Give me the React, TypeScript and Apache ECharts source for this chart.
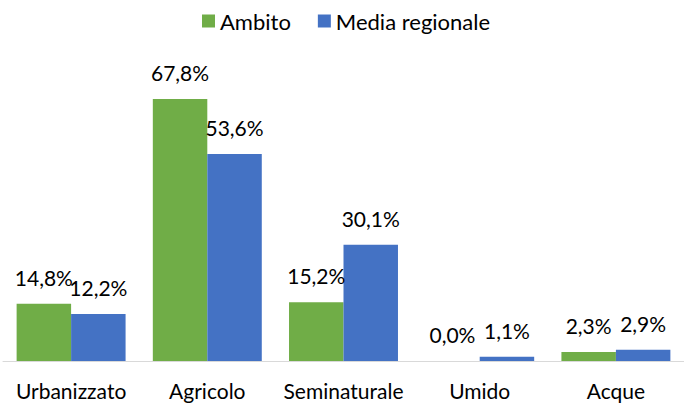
import React, { useEffect, useRef } from "react";
import * as echarts from "echarts";

const categories = ["Urbanizzato", "Agricolo", "Seminaturale", "Umido", "Acque"];
const ambito = [14.8, 67.8, 15.2, 0.0, 2.3];
const mediaRegionale = [12.2, 53.6, 30.1, 1.1, 2.9];
const seriesNames = ["Ambito", "Media regionale"];

const FONT = "Lato, 'Liberation Sans', sans-serif";
const fmt = (v: number) => v.toFixed(1).replace(".", ",") + "%";

export default function App() {
  const ref = useRef<HTMLDivElement>(null);
  useEffect(() => {
    if (!ref.current) return;
    const chart = echarts.init(ref.current, null, { renderer: "svg" });
    const label = {
      show: true,
      position: "top",
      distance: 16,
      color: "#000",
      fontFamily: FONT,
      fontSize: 21,
      formatter: (p: any) => fmt(p.value),
    };
    chart.setOption({
      animation: false,
      backgroundColor: "#fff",
      legend: {
        data: seriesNames,
        left: 202,
        top: 10,
        padding: 0,
        itemWidth: 13,
        itemHeight: 13,
        itemGap: 27,
        icon: "rect",
        textStyle: { fontFamily: FONT, fontSize: 22, color: "#000", padding: [0, 0, 0, 0] },
      },
      grid: { left: 3, right: 0, top: 52, bottom: 42, containLabel: false },
      xAxis: {
        type: "category",
        data: categories,
        axisLine: { show: true, lineStyle: { color: "#D9D9D9", width: 1 } },
        axisTick: { show: false },
        axisLabel: { margin: 19, color: "#000", fontFamily: FONT, fontSize: 21, interval: 0 },
      },
      yAxis: {
        type: "value",
        min: 0,
        max: 80,
        show: false,
        splitLine: { show: false },
      },
      series: [
        {
          name: seriesNames[0],
          type: "bar",
          data: ambito,
          barGap: "0%",
          barCategoryGap: "20%",
          itemStyle: { color: "#70AD47" },
          label,
        },
        {
          name: seriesNames[1],
          type: "bar",
          data: mediaRegionale,
          barGap: "0%",
          barCategoryGap: "20%",
          itemStyle: { color: "#4472C4" },
          label,
        },
      ],
    });
    return () => chart.dispose();
  }, []);
  return (
    <div
      ref={ref}
      style={{ position: "absolute", left: 0, top: 0, width: 684, height: 403 }}
    />
  );
}
